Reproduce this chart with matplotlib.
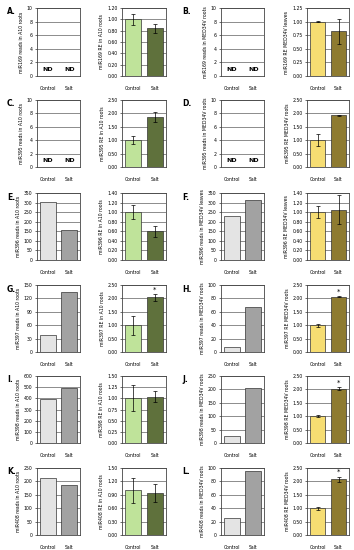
import matplotlib
matplotlib.use("Agg")
import matplotlib.pyplot as plt
import numpy as np

# Data
groups = ["Control", "Salt"]
letters = ["A.", "B.", "C.", "D.", "E.", "F.", "G.", "H.", "I.", "J.", "K.", "L."]
mirnas = ["miR169", "miR169", "miR395", "miR395", "miR396", "miR396",
          "miR397", "miR397", "miR398", "miR398", "miR408", "miR408"]
reads_tissue = ["in A10 roots", "in MED34V roots"] * 6
reads_tissue[5] = "in MED34V leaves"
re_tissue = ["in A10 roots", "MED34V leaves", "in A10 roots", "MED34V roots",
             "in A10 roots", "MED34V leaves", "in A10 roots", "MED34V roots",
             "in A10 roots", "MED34V roots", "in A10 roots", "MED34V roots"]

reads = [None, None, None, None, [305, 157], [228, 313],
         [37, 134], [8, 67], [395, 495], [27, 205], [213, 187], [26, 95]]
reads_max = [10, 10, 10, 10, 350, 350, 150, 100, 600, 250, 250, 100]
reads_step = [2, 2, 2, 2, 50, 50, 30, 20, 100, 50, 50, 20]

re_mean = [[1.00, 0.84], [1.00, 0.82], [1.00, 1.86], [1.00, 1.93],
           [1.00, 0.60], [1.00, 1.05], [1.00, 2.04], [1.00, 2.06],
           [1.00, 1.04], [1.00, 2.02], [1.00, 0.94], [1.00, 2.08]]
re_err = [[0.10, 0.08], [0.01, 0.23], [0.16, 0.18], [0.22, 0.01],
          [0.15, 0.12], [0.12, 0.30], [0.36, 0.12], [0.06, 0.02],
          [0.29, 0.13], [0.04, 0.06], [0.28, 0.21], [0.05, 0.10]]
re_max = [1.20, 1.25, 2.50, 2.50, 1.40, 1.40, 2.50, 2.50, 1.50, 2.50, 1.50, 2.50]
re_step = [0.20, 0.25, 0.50, 0.50, 0.20, 0.20, 0.50, 0.50, 0.25, 0.50, 0.30, 0.50]
signif = [False] * 6 + [True, True, False, True, False, True]

W, H = 354, 550
fig = plt.figure(figsize=(W / 100, H / 100), dpi=100)

col_x = [(37, 80), (122, 166), (221, 264), (307, 349)]
row_y = [(8, 76), (100, 167), (193, 260), (285, 352), (376, 443), (468, 535)]
letter_x = [7, 182]

gray_c = ["#e4e4e4", "#a2a2a2"]
green_c = ["#bfe39a", "#5f713c"]
yellow_c = ["#f6dd72", "#8e7b30"]

fs = 3.3


def make_ax(x0, x1, y0, y1):
    return fig.add_axes([x0 / W, 1 - y1 / H, (x1 - x0) / W, (y1 - y0) / H])


def style(ax, ymax, step, fmt):
    ticks = np.arange(0, ymax + step / 2, step)
    ax.set_ylim(0, ymax)
    ax.set_yticks(ticks)
    ax.set_yticklabels([fmt.format(t) for t in ticks], fontsize=fs)
    ax.yaxis.grid(True, color="#7a7a7a", linewidth=0.6)
    ax.set_axisbelow(True)
    ax.set_xlim(-0.5, 1.5)
    ax.set_xticks([0, 1])
    ax.set_xticklabels(groups, fontsize=fs)
    ax.tick_params(axis="x", length=0, pad=7)
    ax.tick_params(axis="y", length=1.2, width=0.4, pad=2)
    for s in ax.spines.values():
        s.set_linewidth(0.6)
        s.set_color("#444444")


for i in range(12):
    r, side = i // 2, i % 2
    y0, y1 = row_y[r]
    xa, xb = col_x[side * 2], col_x[side * 2 + 1]
    fig.text(letter_x[side] / W, 1 - (y0 + 4) / H, letters[i],
             fontsize=5.5, fontweight="bold", va="center", ha="left")

    # reads panel
    ax = make_ax(xa[0], xa[1], y0, y1)
    style(ax, reads_max[i], reads_step[i], "{:.0f}")
    if reads[i] is None:
        for k in range(2):
            ax.text(k, 1.0, "ND", ha="center", va="center", fontsize=4.5, fontweight="bold")
    else:
        ax.bar([0, 1], reads[i], width=0.76, color=gray_c, edgecolor="#333333", linewidth=0.5)
    ax.set_ylabel(f"{mirnas[i]} reads {reads_tissue[i]}", fontsize=fs, labelpad=2)

    # relative expression panel
    ax2 = make_ax(xb[0], xb[1], y0, y1)
    style(ax2, re_max[i], re_step[i], "{:.2f}")
    cols = yellow_c if side else green_c
    ax2.bar([0, 1], re_mean[i], width=0.76, color=cols, edgecolor="#333333", linewidth=0.5,
            yerr=re_err[i], error_kw=dict(elinewidth=0.5, capsize=1.3, capthick=0.5, ecolor="black"))
    if signif[i]:
        top = re_mean[i][1] + re_err[i][1]
        ax2.text(1, top + re_max[i] * 0.02, "*", ha="center", va="bottom", fontsize=5)
    ax2.set_ylabel(f"{mirnas[i]} RE {re_tissue[i]}", fontsize=fs, labelpad=2)

fig.savefig("out.png", dpi=100)
